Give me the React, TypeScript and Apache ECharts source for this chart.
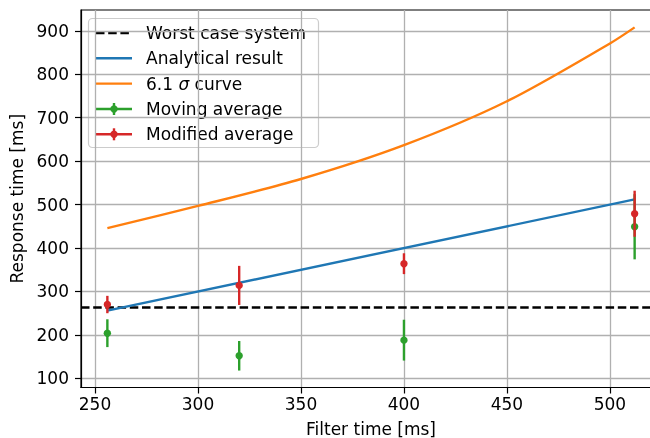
import React, { useEffect, useRef } from "react";
import * as echarts from "echarts";

// ---- data ----
const xTicks = [250, 300, 350, 400, 450, 500];
const yTicks = [100, 200, 300, 400, 500, 600, 700, 800, 900];
const xMin = 243.2;
const xMax = 524.8;
const yMin = 79;
const yMax = 948;

const worstCase = 263;
const analyticalX = [256, 512];
const analyticalY = [256, 512];
const sigmaX = [256, 300, 350, 400, 450, 500, 512];
const sigmaY = [446, 497, 559, 637, 738, 871, 908];
const filterTimes = [256, 320, 400, 512];
const movingAvg = [204, 152, 188, 449];
const movingErr = [32, 34, 47, 75];
const modifiedAvg = [270, 314, 364, 479];
const modifiedErr = [20, 45, 24, 53];

const legendNames = [
  "Worst case system",
  "Analytical result",
  "6.1 σ curve",
  "Moving average",
  "Modified average",
];

const C_BLUE = "#1f77b4";
const C_ORANGE = "#ff7f0e";
const C_GREEN = "#2ca02c";
const C_RED = "#d62728";
const FONT = "DejaVu Sans";
const FS = 17;
const LW = 2.4;

function errorSeries(name: string, ys: number[], es: number[], color: string) {
  return {
    name,
    type: "custom",
    z: 5,
    data: filterTimes.map((x, i) => [x, ys[i], es[i]]),
    encode: { x: 0, y: 1 },
    renderItem: (_p: any, api: any) => {
      const x = api.value(0);
      const y = api.value(1);
      const e = api.value(2);
      const top = api.coord([x, y + e]);
      const bot = api.coord([x, y - e]);
      const c = api.coord([x, y]);
      return {
        type: "group",
        children: [
          {
            type: "line",
            shape: { x1: top[0], y1: top[1], x2: bot[0], y2: bot[1] },
            style: { stroke: color, lineWidth: LW },
          },
          {
            type: "circle",
            shape: { cx: c[0], cy: c[1], r: 3.7 },
            style: { fill: color },
          },
        ],
      };
    },
  };
}

function legendGraphics() {
  const x0 = 96;
  const x1 = 132;
  const tx = 146;
  const ys = [33, 58.3, 83.6, 109, 134.3];
  const children: any[] = [
    {
      type: "rect",
      shape: { x: 88.5, y: 18.5, width: 230, height: 129, r: 4 },
      style: { fill: "rgba(255,255,255,0.8)", stroke: "#cccccc", lineWidth: 1.2 },
    },
  ];
  const lineColors = ["#000", C_BLUE, C_ORANGE, C_GREEN, C_RED];
  ys.forEach((y, i) => {
    children.push({
      type: "line",
      shape: { x1: x0, y1: y, x2: x1, y2: y },
      style: {
        stroke: lineColors[i],
        lineWidth: LW,
        lineDash: i === 0 ? [8.5, 3.7] : null,
      },
    });
    if (i >= 3) {
      const cx = (x0 + x1) / 2;
      children.push({
        type: "line",
        shape: { x1: cx, y1: y - 6, x2: cx, y2: y + 6 },
        style: { stroke: lineColors[i], lineWidth: LW },
      });
      children.push({
        type: "circle",
        shape: { cx, cy: y, r: 3.7 },
        style: { fill: lineColors[i] },
      });
    }
    const isSigma = i === 2;
    children.push({
      type: "text",
      x: tx,
      y,
      style: {
        text: isSigma ? "6.1 {i|σ} curve" : legendNames[i],
        fill: "#000",
        fontFamily: FONT,
        fontSize: FS,
        verticalAlign: "middle",
        align: "left",
        rich: isSigma
          ? { i: { fontStyle: "italic", fontFamily: FONT, fontSize: FS, fill: "#000" } }
          : undefined,
      },
    });
  });
  return [{ type: "group", z: 100, children }];
}

export default function App() {
  const ref = useRef<HTMLDivElement>(null);
  useEffect(() => {
    if (!ref.current) return;
    const chart = echarts.init(ref.current, null, { renderer: "svg" });
    const axisCommon = {
      axisLine: { show: true, onZero: false, lineStyle: { color: "#000", width: 1.2 } },
      axisTick: { show: true, length: 6, lineStyle: { color: "#000", width: 1.2 } },
      splitLine: { show: true, lineStyle: { color: "#b0b0b0", width: 1.3 } },
      axisLabel: { color: "#000", fontFamily: FONT, fontSize: FS },
      nameTextStyle: { color: "#000", fontFamily: FONT, fontSize: FS },
    };
    chart.setOption({
      animation: false,
      textStyle: { fontFamily: FONT },
      grid: {
        left: 81,
        top: 10,
        width: 580,
        height: 377.5,
        containLabel: false,
        outerBoundsMode: "none",
        show: true,
        borderColor: "#000",
        borderWidth: 1.2,
        backgroundColor: "transparent",
      },
      xAxis: {
        type: "value",
        min: xMin,
        max: xMax,
        name: "Filter time [ms]",
        nameLocation: "middle",
        nameGap: 33,
        ...axisCommon,
        axisTick: { ...axisCommon.axisTick, customValues: xTicks },
        axisLabel: { ...axisCommon.axisLabel, margin: 8, customValues: xTicks },
      },
      yAxis: {
        type: "value",
        min: yMin,
        max: yMax,
        name: "Response time [ms]",
        nameLocation: "middle",
        nameGap: 49,
        ...axisCommon,
        axisTick: { ...axisCommon.axisTick, customValues: yTicks },
        axisLabel: { ...axisCommon.axisLabel, margin: 12, customValues: yTicks },
      },
      graphic: legendGraphics(),
      series: [
        {
          name: legendNames[0],
          type: "line",
          data: [
            [xMin, worstCase],
            [xMax, worstCase],
          ],
          symbol: "none",
          lineStyle: { color: "#000", width: LW, type: [8.5, 3.7] },
          z: 2,
        },
        {
          name: legendNames[1],
          type: "line",
          data: analyticalX.map((x, i) => [x, analyticalY[i]]),
          symbol: "none",
          lineStyle: { color: C_BLUE, width: LW },
          z: 3,
        },
        {
          name: legendNames[2],
          type: "line",
          data: sigmaX.map((x, i) => [x, sigmaY[i]]),
          symbol: "none",
          smooth: 0.3,
          lineStyle: { color: C_ORANGE, width: LW },
          z: 3,
        },
        errorSeries(legendNames[3], movingAvg, movingErr, C_GREEN),
        errorSeries(legendNames[4], modifiedAvg, modifiedErr, C_RED),
      ],
    });
    return () => chart.dispose();
  }, []);
  return (
    <div
      ref={ref}
      style={{ position: "fixed", left: 0, top: 0, width: 650, height: 438 }}
    />
  );
}
